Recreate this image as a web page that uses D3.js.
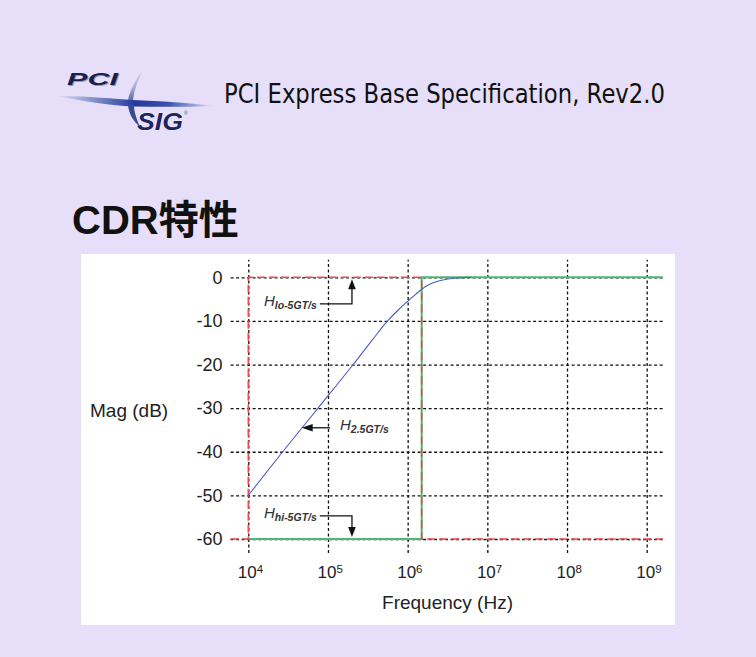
<!DOCTYPE html>
<html>
<head>
<meta charset="utf-8">
<script src="https://cdn.jsdelivr.net/npm/d3@7"></script>
<style>
  html, body { margin: 0; padding: 0; background: #E7DFFA; }
  svg { display: block; }
</style>
</head>
<body>
<svg id="chart" width="756" height="657"></svg>
<script>
// ---- chart data ----
const xTickExponents = [4, 5, 6, 7, 8, 9];
const yTicks = [0, -10, -20, -30, -40, -50, -60];
const freqExtent = [6.0e3, 1.6e9];   // visible frequency span (Hz)
const magExtent = [4, -63.2];        // visible magnitude span (dB)

// H 2.5GT/s CDR response
const h25Freq = [1e4, 2.7e4, 7.5e4, 2.07e5, 3.55e5, 5.6e5, 7.6e5, 1.0e6, 1.26e6, 1.46e6, 1.95e6, 2.5e6, 3.2e6, 4.6e6, 6.3e6];
const h25Mag  = [-50, -40, -30, -20, -14.5, -10, -7.5, -5.5, -3.9, -2.9, -1.5, -0.8, -0.4, -0.1, 0];

// H lo-5GT/s mask (red dashed)
const loFreq = [6.0e3, 1e4, 1e4, 1.5e6, 1.5e6, 1.6e9];
const loMag  = [-60, -60, 0, 0, -60, -60];

// H hi-5GT/s mask (green)
const hiFreq = [1e4, 1.5e6, 1.5e6, 1.6e9];
const hiMag  = [-60, -60, 0, 0];

// callouts, anchored in data coordinates
const callouts = [
  { sub: "lo-5GT/s", from: [7.9e4, -6.1],  elbow: [2e5, -6.1],  tip: [2e5, 0],       side: "left" },
  { sub: "2.5GT/s",  from: [1.06e5, -34.5], elbow: null,        tip: [4.68e4, -34.5], side: "right" },
  { sub: "hi-5GT/s", from: [7.9e4, -54.7], elbow: [2e5, -54.7], tip: [2e5, -60],     side: "left" }
];

// ---- drawing ----
const svg = d3.select("#chart");
const SANS = "'Liberation Sans', Arial, Helvetica, sans-serif";

svg.append("rect").attr("width", 756).attr("height", 657).attr("fill", "#E7DFFA");

// PCI-SIG logo
const defs = svg.append("defs");
const g1 = defs.append("linearGradient").attr("id", "swoosh").attr("x1", 0).attr("x2", 1);
[[0, "#dfe3f3"], [0.25, "#7f8fc8"], [0.5, "#24389a"], [0.7, "#3a4fae"], [1, "#e2e6f5"]]
  .forEach(([o, c]) => g1.append("stop").attr("offset", o).attr("stop-color", c));
const g2 = defs.append("linearGradient").attr("id", "leaf").attr("x1", 0).attr("x2", 0).attr("y1", 0).attr("y2", 1);
[[0, "#d3d7e6"], [0.6, "#a4acd0"], [1, "#5a6ab4"]]
  .forEach(([o, c]) => g2.append("stop").attr("offset", o).attr("stop-color", c));

const logo = svg.append("g");
logo.append("path")
  .attr("d", "M56,96 C90,96 115,99 133,100 C160,101 190,103 215,106 C190,107 160,107 133,106.5 C112,106 84,101 56,96 Z")
  .attr("fill", "url(#swoosh)");
logo.append("path")
  .attr("d", "M143,70 C136,79 130,90 128,100 L133,100 C134,90 138,80 143,70 Z")
  .attr("fill", "url(#leaf)");
logo.append("path")
  .attr("d", "M128,105 C129,113 132,120 140,127 C136,118 134,111 134,105 Z")
  .attr("fill", "#3b4a92");
logo.append("text").attr("x", 68).attr("y", 86)
  .attr("textLength", 51).attr("lengthAdjust", "spacingAndGlyphs")
  .style("font", `italic bold 17px ${SANS}`).attr("fill", "#9a9aa8").text("PCI");
logo.append("text").attr("x", 67).attr("y", 85)
  .attr("textLength", 51).attr("lengthAdjust", "spacingAndGlyphs")
  .style("font", `italic bold 17px ${SANS}`).attr("fill", "#1a1f4e").text("PCI");
logo.append("text").attr("x", 137).attr("y", 130)
  .attr("textLength", 46).attr("lengthAdjust", "spacingAndGlyphs")
  .style("font", `italic bold 24px ${SANS}`).attr("fill", "#1c2560")
  .attr("stroke", "#ffffff").attr("stroke-width", 0.6).attr("paint-order", "stroke").text("SIG");
logo.append("text").attr("x", 184).attr("y", 115)
  .style("font", `5px ${SANS}`).attr("fill", "#555").text("®");

// header line
svg.append("text").attr("x", 224).attr("y", 103)
  .attr("textLength", 441).attr("lengthAdjust", "spacingAndGlyphs")
  .style("font", "26px 'DejaVu Sans', Verdana, sans-serif").attr("fill", "#111")
  .text("PCI Express Base Specification, Rev2.0");

// slide title
svg.append("text").attr("x", 72).attr("y", 234)
  .style("font", "bold 40px 'Liberation Sans', Arial, 'Noto Sans CJK JP', sans-serif")
  .attr("fill", "#111").text("CDR特性");

// white chart panel
svg.append("rect").attr("x", 81).attr("y", 254).attr("width", 594).attr("height", 371).attr("fill", "#ffffff");

// scales
const x = d3.scaleLog().domain([1e4, 1e9]).range([248.3, 646.7]);
const y = d3.scaleLinear().domain([0, -60]).range([277.3, 539]);
const xL = x(freqExtent[0]), xR = x(freqExtent[1]);
const yT = y(magExtent[0]), yB = y(magExtent[1]);

// y axis with horizontal grid
const yAxis = svg.append("g").attr("transform", `translate(${xL},0)`)
  .call(d3.axisLeft(y).tickValues(yTicks).tickSizeInner(-(xR - xL)).tickSizeOuter(0).tickPadding(8)
        .tickFormat(d => d === 0 ? "0" : String(d)));
yAxis.select(".domain").remove();
yAxis.selectAll(".tick line").attr("stroke", "#111").attr("stroke-width", 1.3).attr("stroke-dasharray", "3,2.5");
yAxis.selectAll(".tick text").style("font", `18px ${SANS}`).attr("fill", "#222");

// x axis with vertical grid
const xTicks = xTickExponents.map(e => Math.pow(10, e));
const xAxis = svg.append("g").attr("transform", `translate(0,${yB})`)
  .call(d3.axisBottom(x).tickValues(xTicks).tickSizeInner(-(yB - yT)).tickSizeOuter(0).tickPadding(13)
        .tickFormat(() => ""));
xAxis.select(".domain").remove();
xAxis.selectAll(".tick line").attr("stroke", "#111").attr("stroke-width", 1.3).attr("stroke-dasharray", "3,2.5");
xAxis.selectAll(".tick text").each(function(d, i) {
  const t = d3.select(this).style("font", `17px ${SANS}`).attr("fill", "#222").attr("dx", "0.1em");
  t.append("tspan").text("10");
  t.append("tspan").attr("dy", "-0.45em").style("font-size", "11.5px").text(xTickExponents[i]);
});

// axis titles
svg.append("text").attr("x", 90).attr("y", 417)
  .style("font", `19px ${SANS}`).attr("fill", "#222").text("Mag (dB)");
svg.append("text").attr("x", (x(1e4) + x(1e9)) / 2).attr("y", 609).attr("text-anchor", "middle")
  .style("font", `19px ${SANS}`).attr("fill", "#222").text("Frequency (Hz)");

// masks and response
const line = d3.line().x(d => x(d[0])).y(d => y(d[1]));
svg.append("path").datum(d3.zip(hiFreq, hiMag)).attr("d", line)
  .attr("fill", "none").attr("stroke", "#4DB873").attr("stroke-width", 2);
svg.append("path").datum(d3.zip(loFreq, loMag)).attr("d", line)
  .attr("fill", "none").attr("stroke", "#EC4A50").attr("stroke-width", 1.6).attr("stroke-dasharray", "8,4");

const curve = d3.line().x(d => x(d[0])).y(d => y(d[1])).curve(d3.curveMonotoneX);
svg.append("path").datum(d3.zip(h25Freq, h25Mag)).attr("d", curve)
  .attr("fill", "none").attr("stroke", "#4B5CC4").attr("stroke-width", 1.1);

// callouts
callouts.forEach(c => {
  const [fx, fy] = [x(c.from[0]), y(c.from[1])];
  const [tx, ty] = [x(c.tip[0]), y(c.tip[1])];
  const pts = [[fx, fy]];
  if (c.elbow) {
    pts.push([x(c.elbow[0]), y(c.elbow[1])]);
    const dir = ty < fy ? -1 : 1;             // vertical arrow direction
    const tipY = ty - dir * 2;
    pts.push([tx, tipY - dir * 8]);
    svg.append("polyline").attr("points", pts.map(p => p.join(",")).join(" "))
      .attr("fill", "none").attr("stroke", "#111").attr("stroke-width", 1.3);
    svg.append("polygon")
      .attr("points", [[tx, tipY], [tx - 3.8, tipY - dir * 10], [tx + 3.8, tipY - dir * 10]].map(p => p.join(",")).join(" "))
      .attr("fill", "#111");
  } else {
    pts.push([tx + 10, ty]);
    svg.append("polyline").attr("points", pts.map(p => p.join(",")).join(" "))
      .attr("fill", "none").attr("stroke", "#111").attr("stroke-width", 1.3);
    svg.append("polygon")
      .attr("points", [[tx, ty], [tx + 11, ty - 3.8], [tx + 11, ty + 3.8]].map(p => p.join(",")).join(" "))
      .attr("fill", "#111");
  }
  const lbl = svg.append("text")
    .attr("x", c.side === "left" ? fx - 3 : fx + 10)
    .attr("y", fy + 2)
    .attr("text-anchor", c.side === "left" ? "end" : "start")
    .attr("fill", "#333");
  lbl.append("tspan").style("font", `italic 15px ${SANS}`).text("H");
  lbl.append("tspan").attr("dy", 3.5).style("font", `italic bold 10.5px ${SANS}`).text(c.sub);
});
</script>
</body>
</html>
